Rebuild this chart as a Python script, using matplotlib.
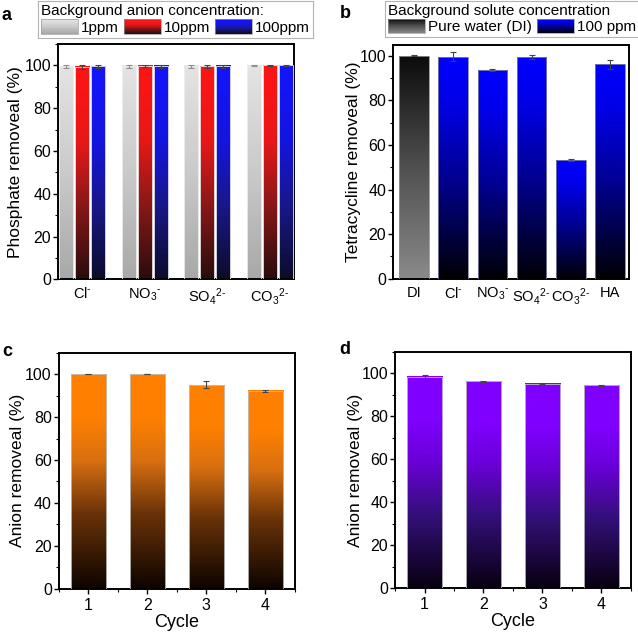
import numpy as np
import matplotlib
matplotlib.use("Agg")
import matplotlib.pyplot as plt
from matplotlib.colors import LinearSegmentedColormap
from matplotlib.legend_handler import HandlerBase
from matplotlib.patches import Rectangle, Patch
from matplotlib.ticker import MultipleLocator

plt.rcParams['font.family'] = ['Liberation Sans', 'DejaVu Sans']
plt.rcParams['mathtext.fontset'] = 'custom'
plt.rcParams['mathtext.rm'] = 'Liberation Sans'
plt.rcParams['mathtext.it'] = 'Liberation Sans'
plt.rcParams['mathtext.default'] = 'regular'

# ---------------- data ----------------
a_categories = [r'Cl$^{\text{-}}$', r'NO$_3$$^{\text{-}}$', r'SO$_4$$^{2\text{-}}$', r'CO$_3$$^{2\text{-}}$']
a_series = ['1ppm', '10ppm', '100ppm']
a_1ppm = [99.5, 99.6, 99.6, 99.8]
a_10ppm = [99.3, 99.7, 99.5, 100.0]
a_100ppm = [99.5, 99.6, 99.6, 100.0]
a_1ppm_err = [0.8, 0.6, 0.6, 0.3]
a_10ppm_err = [1.0, 0.4, 0.8, 0.2]
a_100ppm_err = [0.8, 0.7, 0.7, 0.2]

b_categories = ['DI', r'Cl$^{\text{-}}$', r'NO$_3$$^{\text{-}}$', r'SO$_4$$^{2\text{-}}$', r'CO$_3$$^{2\text{-}}$', 'HA']
b_values = [100.0, 99.6, 93.6, 99.6, 53.2, 96.2]
b_err = [0.2, 2.0, 0.3, 0.8, 0.3, 2.0]
b_series = ['Pure water (DI)', '100 ppm']

cycles = ['1', '2', '3', '4']
c_values = [100.0, 100.0, 95.0, 92.3]
c_err = [0.0, 0.0, 1.6, 0.5]
d_values = [98.4, 96.4, 95.2, 94.5]
d_err = [0.8, 0.3, 0.3, 0.3]

# ---------------- colormaps (bottom -> top) ----------------
def cmap(stops, name):
    return LinearSegmentedColormap.from_list(name, stops)

cm_gray = cmap([(0, '#a8a8a8'), (0.5, '#cacaca'), (1, '#e4e4e4')], 'g')
cm_red = cmap([(0, '#2a0c0c'), (0.35, '#8a1818'), (0.65, '#e81818'), (1, '#ff1414')], 'r')
cm_blue = cmap([(0, '#0c0c2a'), (0.35, '#18188a'), (0.65, '#1414e0'), (1, '#1414ff')], 'bl')
cm_dark = cmap([(0, '#8a8a8a'), (0.5, '#505050'), (1, '#0c0c0c')], 'dk')
cm_blue2 = cmap([(0, '#000004'), (0.45, '#000090'), (0.8, '#0000e8'), (1, '#0000ff')], 'b2')
cm_orange = cmap([(0, '#0c0400'), (0.35, '#6a3208'), (0.6, '#d87010'), (0.8, '#ff8000'), (1, '#ff8000')], 'o')
cm_purple = cmap([(0, '#080010'), (0.35, '#34107a'), (0.6, '#6a00d8'), (0.8, '#8000ff'), (1, '#8000ff')], 'p')

grad = np.linspace(0, 1, 256).reshape(-1, 1)


def grad_bars(ax, x, h, width, cm, edge, err=None, ecolor='#444444'):
    for xi, hi in zip(x, h):
        ax.imshow(grad, extent=[xi - width / 2, xi + width / 2, 0, hi], origin='lower',
                  aspect='auto', cmap=cm, zorder=2, interpolation='bicubic')
    ax.bar(x, h, width=width, facecolor='none', edgecolor=edge, linewidth=0.6, zorder=3)
    if err is not None:
        ax.errorbar(x, h, yerr=err, fmt='none', ecolor=ecolor, elinewidth=0.8,
                    capsize=2.2, capthick=0.8, zorder=4)


class GradHandler(HandlerBase):
    def __init__(self, cm):
        super().__init__()
        self.cm = cm

    def create_artists(self, legend, orig_handle, xdescent, ydescent, width, height,
                       fontsize, trans):
        n = 24
        arts = []
        for i in range(n):
            r = Rectangle((-xdescent, -ydescent + height * i / n), width, height / n + 0.3,
                          facecolor=self.cm((i + 0.5) / n), edgecolor='none', transform=trans)
            arts.append(r)
        frame = Rectangle((-xdescent, -ydescent), width, height, facecolor='none',
                          edgecolor='#999999', linewidth=0.5, transform=trans)
        arts.append(frame)
        return arts


TICK_FS = 11.5
CAT_FS = 10.5
LAB_FS = 12.5


def style(ax, ymax):
    ax.set_ylim(0, ymax)
    ax.yaxis.set_major_locator(MultipleLocator(20))
    ax.yaxis.set_minor_locator(MultipleLocator(10))
    ax.tick_params(axis='y', which='major', direction='out', length=3.5, width=1.0,
                   labelsize=TICK_FS, pad=1.5)
    ax.tick_params(axis='y', which='minor', direction='out', length=2, width=0.8)
    for s in ax.spines.values():
        s.set_linewidth(1.4)


W, H = 638, 632
fig = plt.figure(figsize=(W / 100, H / 100), dpi=100)

def px_axes(l, t, r, b):
    return fig.add_axes([l / W, 1 - b / H, (r - l) / W, (b - t) / H])

LEG_KW = dict(loc='upper left', fontsize=11, title_fontsize=11, alignment='left',
              frameon=True, fancybox=False, edgecolor='#a0a0a0', borderpad=0.2,
              handlelength=2.4, handleheight=1.05, handletextpad=0.2, columnspacing=0.35,
              labelspacing=0.2, borderaxespad=0)

# ---------------- panel a ----------------
ax = px_axes(58, 44, 294, 279.3)
xa = np.arange(1, 5)
off, bw = 0.255, 0.225
grad_bars(ax, xa - off, a_1ppm, bw, cm_gray, '#f0f0f0', a_1ppm_err, '#909090')
grad_bars(ax, xa, a_10ppm, bw, cm_red, '#f0f0f0', a_10ppm_err)
grad_bars(ax, xa + off, a_100ppm, bw, cm_blue, '#f0f0f0', a_100ppm_err)
ax.set_xlim(0.61, 4.39)
style(ax, 110)
ax.set_xticks(xa)
ax.set_xticklabels(a_categories)
ax.tick_params(axis='x', length=0, labelsize=CAT_FS, pad=5)
ax.set_ylabel('Phosphate removeal (%)', fontsize=LAB_FS)
ax.yaxis.set_label_coords(-0.148, 0.5)
handles = [Patch(label=s) for s in a_series]
leg = fig.legend(handles=handles, labels=a_series, bbox_to_anchor=(38 / W, 1 - 1 / H), ncol=3,
                 title='Background anion concentration:',
                 handler_map={handles[0]: GradHandler(cm_gray), handles[1]: GradHandler(cm_red),
                              handles[2]: GradHandler(cm_blue)}, **LEG_KW)
leg.get_frame().set_linewidth(0.8)
leg._legend_box.sep = 1

# ---------------- panel b ----------------
ax = px_axes(393, 44.7, 629, 278.7)
xb = np.arange(1, 7)
bwb = 0.76
grad_bars(ax, xb[:1], b_values[:1], bwb, cm_dark, '#909090', b_err[:1])
grad_bars(ax, xb[1:], b_values[1:], bwb, cm_blue2, '#8080a0', b_err[1:])
ax.set_xlim(0.46, 6.49)
style(ax, 105)
ax.set_xticks(xb)
ax.set_xticklabels(b_categories)
ax.tick_params(axis='x', length=0, labelsize=CAT_FS, pad=5)
ax.set_ylabel('Tetracycline removeal (%)', fontsize=LAB_FS)
ax.yaxis.set_label_coords(-0.136, 0.5)
handles_b = [Patch(label=s) for s in b_series]
leg = fig.legend(handles=handles_b, labels=b_series, bbox_to_anchor=(385 / W, 1 - 0.5 / H), ncol=2,
                 title='Background solute concentration',
                 handler_map={handles_b[0]: GradHandler(cm_dark), handles_b[1]: GradHandler(cm_blue2)},
                 **LEG_KW)
leg.get_frame().set_linewidth(0.8)
leg._legend_box.sep = 1

# ---------------- panel c / d ----------------
for (l, t, r, b), vals, errs, cm, lab_x in [((58.7, 352.7, 295, 588.7), c_values, c_err, cm_orange, -0.143),
                                             ((395, 352, 631, 588), d_values, d_err, cm_purple, -0.136)]:
    ax = px_axes(l, t, r, b)
    xc = np.arange(1, 5)
    grad_bars(ax, xc, vals, 0.6, cm, '#c0c0c0', errs)
    ax.set_xlim(0.5, 4.5)
    style(ax, 110)
    ax.set_xticks(xc)
    ax.set_xticklabels(cycles)
    ax.xaxis.set_minor_locator(MultipleLocator(0.5))
    ax.tick_params(axis='x', which='major', direction='out', length=3.5, width=1.0,
                   labelsize=TICK_FS, pad=3)
    ax.tick_params(axis='x', which='minor', direction='out', length=2, width=0.8)
    ax.set_xlabel('Cycle', fontsize=LAB_FS + 0.5, labelpad=1)
    ax.set_ylabel('Anion removeal (%)', fontsize=LAB_FS)
    ax.yaxis.set_label_coords(lab_x, 0.5)

# panel letters
for txt, x, y in [('a', 2, 7), ('b', 340, 5), ('c', 2, 343), ('d', 339, 341)]:
    fig.text(x / W, 1 - y / H, txt, fontsize=13, fontweight='bold', va='top', ha='left')

fig.savefig('out.png', dpi=100)
